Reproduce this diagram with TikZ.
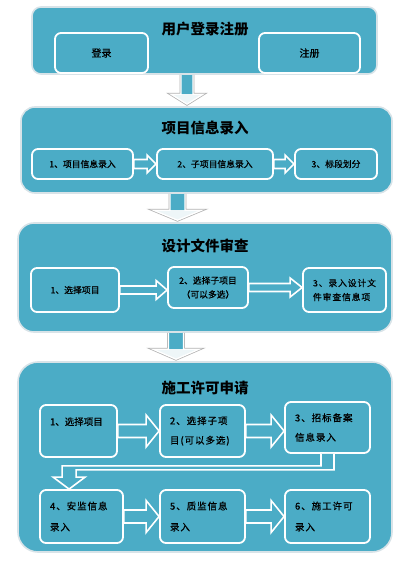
\documentclass[tikz,border=0pt]{standalone}
\usepackage{fontspec}
\setmainfont{Noto Sans CJK SC}
\newfontfamily\bxf[FakeBold=0.6]{Noto Sans CJK SC}
\newfontfamily\spc[LetterSpace=10,FakeBold=0.6]{Noto Sans CJK SC}
\usetikzlibrary{calc}
\definecolor{pblue}{HTML}{4BACC6}
\definecolor{pedge}{HTML}{D8E3E8}
\definecolor{headfill}{HTML}{EEF6F8}
\tikzset{
  panel/.style={fill=pblue, draw=pedge, line width=1.6pt},
  box/.style={fill=pblue, draw=white, line width=1.8pt, rounded corners=6pt, text=black},
  ptitle/.style={font=\bfseries\fontsize{14.5}{16}\selectfont, text=black},
  harrow/.style={fill=pblue, draw=white, line width=1.6pt, line join=miter},
  darrowout/.style={draw=black!30, line width=2.8pt, line join=miter},
  darrowin/.style={draw=white, line width=1.3pt, line join=miter},
}
% hollow right arrow: from, to, shaft half, head half, head length
\newcommand\rightarr[5]{%
  \draw[harrow] let \p1=(#1.east), \p2=(#2.west) in
    (\x1,\y1+#3pt) -- (\x2-#5pt,\y1+#3pt) -- (\x2-#5pt,\y1+#4pt) -- (\x2,\y1)
    -- (\x2-#5pt,\y1-#4pt) -- (\x2-#5pt,\y1-#3pt) -- (\x1,\y1-#3pt) -- cycle;}
% down arrow between panels: from, to, x offset, shaft half, head half, head length
\newcommand\downarr[6]{%
  \path[darrowout] let \p1=($(#1.south)+(#3pt,0)$), \p2=($(#2.north)+(0,-2)$) in
    (\x1-#4pt,\y1) -- (\x1-#4pt,\y2+#6pt) -- (\x1-#5pt,\y2+#6pt) -- (\x1,\y2)
    -- (\x1+#5pt,\y2+#6pt) -- (\x1+#4pt,\y2+#6pt) -- (\x1+#4pt,\y1);
  \fill[pblue] let \p1=($(#1.south)+(#3pt,0)$), \p2=($(#2.north)+(0,-2)$) in
    (\x1-#4pt,\y1) rectangle (\x1+#4pt,\y2+#6pt);
  \fill[headfill] let \p1=($(#1.south)+(#3pt,0)$), \p2=($(#2.north)+(0,-2)$) in
    (\x1-#5pt,\y2+#6pt) -- (\x1,\y2) -- (\x1+#5pt,\y2+#6pt) -- cycle;
  \path[darrowin] let \p1=($(#1.south)+(#3pt,0)$), \p2=($(#2.north)+(0,-2)$) in
    (\x1-#4pt,\y1) -- (\x1-#4pt,\y2+#6pt) -- (\x1-#5pt,\y2+#6pt) -- (\x1,\y2)
    -- (\x1+#5pt,\y2+#6pt) -- (\x1+#4pt,\y2+#6pt) -- (\x1+#4pt,\y1);}
\begin{document}
\begin{tikzpicture}[x=1pt,y=-1pt]
\useasboundingbox[fill=white] (0,0) rectangle (416,564);

% ---------- panel 1
\node[panel, rounded corners=9pt, minimum width=345pt, minimum height=67pt] (p1) at (204.5,40.5) {};
\node[ptitle] (t1) at (205,29) {用户登录注册};
\node[box, minimum width=93pt, minimum height=40pt, font=\bxf\fontsize{10}{12}\selectfont] (login) at (101.5,53) {登录};
\node[box, minimum width=101pt, minimum height=40pt, font=\bxf\fontsize{10}{12}\selectfont] (reg) at (309.5,53) {注册};

% ---------- panel 2
\node[panel, rounded corners=14pt, minimum width=371pt, minimum height=86pt] (p2) at (206.5,150) {};
\node[ptitle] (t2) at (205,128) {项目信息录入};
\begin{scope}[every node/.append style={font=\bxf\fontsize{8.8}{11}\selectfont}]
\node[box, minimum width=101pt, minimum height=30pt] (a1) at (82.5,164) {1、项目信息录入};
\node[box, minimum width=116pt, minimum height=30pt] (a2) at (215,164) {2、子项目信息录入};
\node[box, minimum width=82pt, minimum height=30pt] (a3) at (336,164) {3、标段划分};
\end{scope}
\rightarr{a1}{a2}{4.5}{9}{9}
\rightarr{a2}{a3}{4.5}{9}{9}

% ---------- panel 3
\node[panel, rounded corners=16pt, minimum width=374pt, minimum height=109pt] (p3) at (205,277.5) {};
\node[ptitle] (t3) at (205,246) {设计文件审查};
\begin{scope}[every node/.append style={font=\bxf\fontsize{8.8}{14}\selectfont}]
\node[box, minimum width=88pt, minimum height=44pt] (c1) at (75,290) {1、选择项目};
\node[box, minimum width=80pt, minimum height=41pt, align=center] (c2) at (208,287.5) {2、选择子项目\\（可以多选）};
\node[box, minimum width=83pt, minimum height=44pt, text width=63pt, inner xsep=10pt, align=left] (c3) at (344.5,290) {\spc 3、录入设计文\\件审查信息项};
\end{scope}
\rightarr{c1}{c2}{4}{9.5}{11}
\rightarr{c2}{c3}{4}{9.5}{12}

% ---------- panel 4
\node[panel, rounded corners=20pt, minimum width=374pt, minimum height=190pt] (p4) at (205,457) {};
\node[ptitle] (t4) at (205,388) {施工许可申请};
\begin{scope}[every node/.append style={font=\bxf\fontsize{9.5}{19.5}\selectfont, align=left, inner xsep=10pt}]
\node[box, minimum width=77pt, minimum height=52pt, text width=57pt] (d1) at (78.5,431) {1、选择项目\\\mbox{}};
\node[box, minimum width=85pt, minimum height=52pt, text width=65pt] (d2) at (202.5,431) {\spc 2、选择子项\\目(可以多选)};
\node[box, minimum width=85pt, minimum height=51pt, text width=65pt] (d3) at (327.5,427.5) {\spc 3、招标备案\\信息录入};
\node[box, minimum width=83pt, minimum height=53pt, text width=63pt, font=\bxf\fontsize{9.5}{21}\selectfont] (d4) at (81.5,516.5) {\spc 4、安监信息\\录入};
\node[box, minimum width=85pt, minimum height=53pt, text width=65pt, font=\bxf\fontsize{9.5}{21}\selectfont] (d5) at (202.5,516.5) {\spc 5、质监信息\\录入};
\node[box, minimum width=85pt, minimum height=53pt, text width=65pt, font=\bxf\fontsize{9.5}{21}\selectfont] (d6) at (327.5,516.5) {\spc 6、施工许可\\录入};
\end{scope}
\rightarr{d1}{d2}{6.5}{16}{13}
\rightarr{d2}{d3}{6.5}{16}{13}
\rightarr{d4}{d5}{6.5}{16}{13}
\rightarr{d5}{d6}{6.5}{16}{13}
% bent arrow from d3 to d4
\draw[harrow] let \p1=(d3.south), \p2=(d4.north west) in
  (\x1+6.5pt,\y1) -- (\x1+6.5pt,\y1-16pt) -- (\x2+37pt,\y1-16pt) -- (\x2+37pt,\y2+12pt)
  -- (\x2+46pt,\y2+12pt) -- (\x2+30pt,\y2) -- (\x2+14pt,\y2+12pt) -- (\x2+23pt,\y2+12pt)
  -- (\x2+23pt,\y1-12pt) -- (\x1-6.5pt,\y1-12pt) -- (\x1-6.5pt,\y1);

% ---------- arrows between panels
\downarr{p1}{p2}{-17.5}{6}{16}{10}
\downarr{p2}{p3}{-29}{7.5}{24}{10}
\downarr{p3}{p4}{-29}{7.5}{23}{10}
\end{tikzpicture}
\end{document}
